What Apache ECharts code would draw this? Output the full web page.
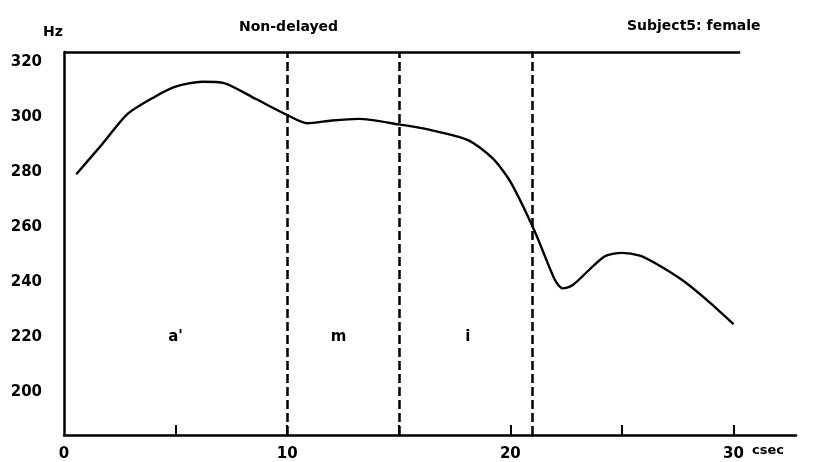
<!DOCTYPE html>
<html><head><meta charset="utf-8">
<script src="https://cdn.jsdelivr.net/npm/echarts@6/dist/echarts.min.js"></script>
<style>html,body{margin:0;padding:0;background:#fff}#c{width:814px;height:462px}</style>
</head><body><div id="c"></div>
<script>
const timeCsec = [0.55, 1.7, 2.84, 4.0, 5.0, 6.2, 7.17, 8.6, 10.0, 10.9, 12.0, 13.2, 15.0, 16.4, 18.1, 19.2, 20.0, 21.1, 22.0, 22.35, 22.8, 24.2, 25.0, 25.8, 26.5, 27.7, 28.8, 30.0];
const f0Hz = [279.2, 290, 301, 307, 311, 312.8, 312.3, 306.5, 300.7, 297.7, 298.7, 299.3, 297.3, 295.3, 291.6, 285, 276.5, 258.3, 240.7, 237.7, 238.9, 249.2, 250.6, 249.6, 246.8, 240.7, 233.5, 224.7];
const boundaries = [10, 15, 21];
const segLabels = ["a'", "m", "i"];
const segX = [5, 12.3, 18.1];
const segY = [220, 220, 220];
const yTicks = [200, 220, 240, 260, 280, 300, 320];
const xLabels = [0, 10, 20, 30];
const xTicks = [5, 10, 15, 20, 25, 30];

const FONT = 'DejaVu Sans';
const chart = echarts.init(document.getElementById('c'));
const yMin = 184.4, yMax = 323.6, xMax = 32.8;
chart.setOption({
  animation: false,
  grid: {left: 64, right: 18, top: 52, bottom: 27},
  title: [
    {text: 'Hz', left: 38, top: 20, textStyle: {fontFamily: FONT, fontWeight: 'bold', fontSize: 14, color: '#000'}},
    {text: 'Non-delayed', left: 234, top: 15, textStyle: {fontFamily: FONT, fontWeight: 'bold', fontSize: 14, color: '#000'}},
    {text: 'Subject5: female', left: 622, top: 14, textStyle: {fontFamily: FONT, fontWeight: 'bold', fontSize: 14, color: '#000'}}
  ],
  xAxis: {
    type: 'value', min: 0, max: xMax,
    axisLine: {show: true, lineStyle: {color: '#000', width: 2.5}},
    axisTick: {show: true, inside: true, length: 10, customValues: xTicks, lineStyle: {color: '#000', width: 2}},
    axisLabel: {customValues: xLabels, margin: 12, fontFamily: FONT, fontWeight: 'bold', fontSize: 15, color: '#000'},
    splitLine: {show: false}
  },
  yAxis: {
    type: 'value', min: yMin, max: yMax,
    axisLine: {show: true, lineStyle: {color: '#000', width: 2.5}},
    axisTick: {show: false},
    axisLabel: {customValues: yTicks, margin: 22, fontFamily: FONT, fontWeight: 'bold', fontSize: 15, color: '#000'},
    splitLine: {show: false}
  },
  graphic: [
    {type: 'text', left: 752, top: 444, style: {text: 'csec', font: 'bold 13px "DejaVu Sans"', fill: '#000'}}
  ],
  series: [
    {
      type: 'line', data: timeCsec.map((x, i) => [x, f0Hz[i]]), smooth: 0.25, symbol: 'none',
      lineStyle: {color: '#000', width: 2.4},
      markLine: {
        silent: true, symbol: 'none', label: {show: false},
        data: [
          ...boundaries.map(b => [{coord: [b, yMin], lineStyle: {type: [9, 4], width: 2.5, color: '#000'}}, {coord: [b, yMax]}]),
          [{coord: [0, yMax], lineStyle: {type: 'solid', width: 2.5, color: '#000'}}, {coord: [30.3, yMax]}]
        ]
      }
    },
    {
      type: 'scatter', symbolSize: 0, data: segX.map((x, i) => [x, segY[i], segLabels[i]]),
      itemStyle: {color: '#000', opacity: 1},
      label: {show: true, position: 'inside', formatter: p => p.data[2], fontFamily: FONT, fontWeight: 'bold', fontSize: 15, color: '#000'}
    }
  ]
});
</script></body></html>
